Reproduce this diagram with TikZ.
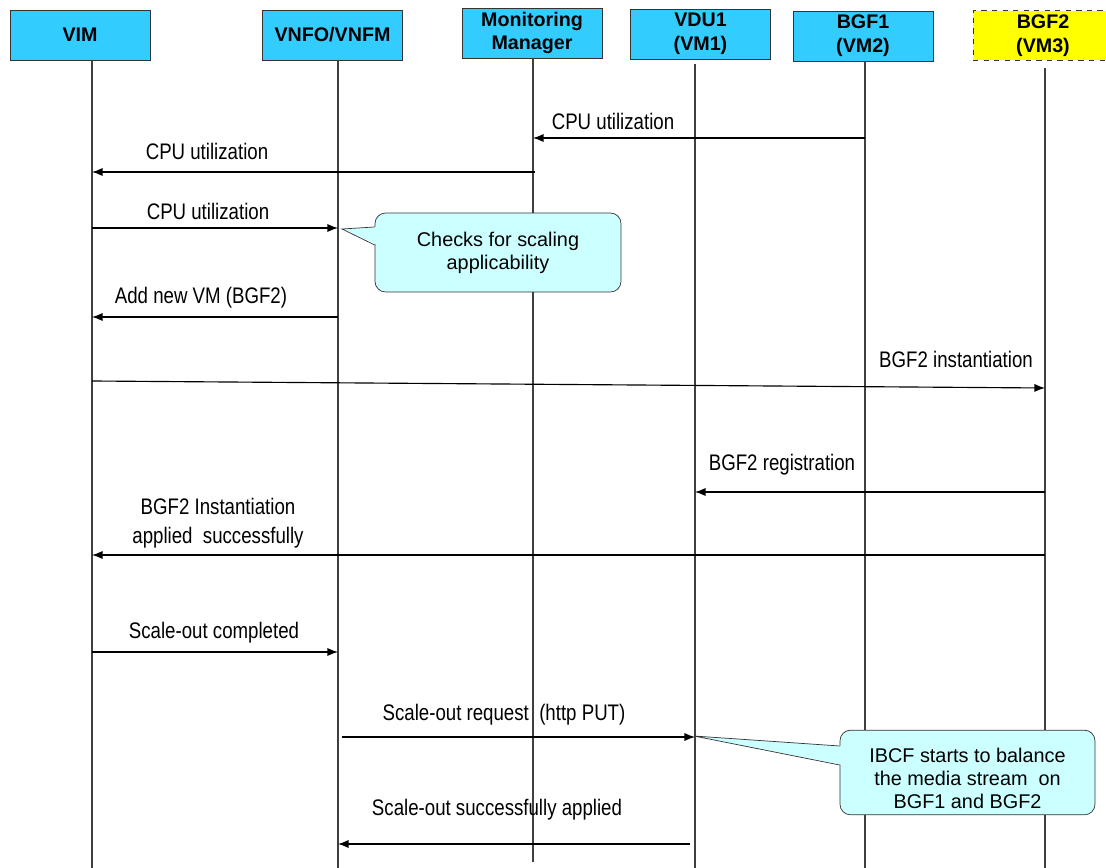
\documentclass[tikz,border=0pt]{standalone}
\usepackage{fontspec}
\setmainfont{Liberation Sans}
\newfontfamily\msgfont[FakeStretch=0.83]{Liberation Sans}
\usepackage{xcolor}
\usepackage{tikz}
\usetikzlibrary{arrows.meta, calc}

\definecolor{headblue}{HTML}{33CCFF}
\definecolor{headyellow}{HTML}{FFFF00}
\definecolor{notecyan}{HTML}{CCFFFF}

\begin{document}
\begin{tikzpicture}[
  x=0.02cm, y=-0.02cm,
  head/.style={draw=black!80, fill=headblue, minimum width=2.8cm,
               minimum height=1.0cm, inner sep=0pt, align=center,
               font=\fontsize{11.2}{13.6}\selectfont\bfseries},
  newhead/.style={head, fill=headyellow, dashed},
  life/.style={draw=black!75, line width=0.6pt},
  msg/.style={-{Latex[length=6pt,width=4.6pt]}, line width=0.65pt},
  lab/.style={font=\msgfont\fontsize{12.8}{16.4}\selectfont, align=center},
  note/.style={draw=black!80, fill=notecyan, rounded corners=6pt,
               align=center, font=\fontsize{11.3}{13.2}\selectfont},
  tail/.style={fill=notecyan},
  tailedge/.style={draw=black!80},
]
\useasboundingbox (0,0) rectangle (1106,868);

% ---- Heads -----------------------------------------------------------------
\node[head] (vim) at (80,35) {VIM};
\node[head] (vnfm) at (332.5,35) {VNFO/VNFM};
\node[head] (mm) at (532,33) {Monitoring\\Manager};
\node[head] (vdu) at (700.5,34) {VDU1\\(VM1)};
\node[head] (bgfa) at (863,36) {BGF1\\(VM2)};
\node[newhead] (bgfb) at (1043,35.5) {BGF2\\(VM3)};

% ---- Lifelines -------------------------------------------------------------
\coordinate (lvim) at (92,60);    \coordinate (lvimEnd) at (92,868);
\coordinate (lvnfm) at (338,60);  \coordinate (lvnfmEnd) at (338,868);
\coordinate (lmm) at (533,58);    \coordinate (lmmEnd) at (533,862);
\coordinate (lvdu) at (695,64);   \coordinate (lvduEnd) at (695,868);
\coordinate (lbgfa) at (865,62);  \coordinate (lbgfaEnd) at (865,868);
\coordinate (lbgfb) at (1045,68); \coordinate (lbgfbEnd) at (1045,868);
\draw[life] (lvim) -- (lvimEnd);
\draw[life] (lvnfm) -- (lvnfmEnd);
\draw[life] (lmm) -- (lmmEnd);
\draw[life] (lvdu) -- (lvduEnd);
\draw[life] (lbgfa) -- (lbgfaEnd);
\draw[life] (lbgfb) -- (lbgfbEnd);

% ---- Monitoring ------------------------------------------------------------
\draw[msg] (lbgfa |- 0,138) -- (lmm |- 0,138);
\node[lab] (tCpuA) at (613,121) {CPU utilization};
\draw[msg] ($(lmm |- 0,172)+(2,0)$) -- (lvim |- 0,172);
\node[lab] (tCpuB) at (207,151) {CPU utilization};
\draw[msg] (lvim |- 0,228) -- (lvnfm |- 0,228);
\node[lab] (tCpuC) at (208,211) {CPU utilization};

% ---- Scaling check callout -------------------------------------------------
\node[note, minimum width=4.92cm, minimum height=1.58cm]
  (chk) at (498,252.5) {Checks for scaling\\applicability};
\coordinate (chkTip) at (342,229);
\fill[tail] ($(chk.west |- 0,227)+(3,0)$) -- (chkTip)
  -- ($(chk.west |- 0,245)+(3,0)$) -- cycle;
\draw[tailedge] (chk.west |- 0,227) -- (chkTip) -- (chk.west |- 0,245);

% ---- Instantiation ---------------------------------------------------------
\draw[msg] (lvnfm |- 0,317) -- (lvim |- 0,317);
\node[lab] (tAddVm) at (201,298) {Add new VM (BGF2)};
\draw[msg] (lvim |- 0,381) -- (lbgfb |- 0,388);
\node[lab] (tInst) at (956,359) {BGF2 instantiation};
\draw[msg] (lbgfb |- 0,492) -- (lvdu |- 0,492);
\node[lab] (tReg) at (782,465) {BGF2 registration};
\draw[msg] (lbgfb |- 0,555) -- (lvim |- 0,555);
\node[lab] (tInstOk) at (218,523) {BGF2 Instantiation\\applied\ \ successfully};

% ---- Scale-out -------------------------------------------------------------
\draw[msg] (lvim |- 0,652) -- (lvnfm |- 0,652);
\node[lab] (tDone) at (214,633) {Scale-out completed};
\draw[msg] ($(lvnfm |- 0,737)+(4,0)$) -- (lvdu |- 0,737);
\node[lab] (tReq) at (504,715) {Scale-out request\ \ (http PUT)};
\draw[msg] ($(lvdu |- 0,844)+(-5,0)$) -- (lvnfm |- 0,844);
\node[lab] (tApplied) at (497,810) {Scale-out successfully applied};

% ---- Balancing callout -----------------------------------------------------
\node[note, minimum width=5.1cm, minimum height=1.58cm]
  (ibcf) at (967.5,772.5)
  {\rule{0pt}{15pt}IBCF starts to balance\\the media stream\ \ on\\BGF1 and BGF2};
\coordinate (ibcfTip) at (694,736);
\fill[tail] ($(ibcf.west |- 0,746)+(3,0)$) -- (ibcfTip)
  -- ($(ibcf.west |- 0,765)+(3,0)$) -- cycle;
\draw[tailedge] (ibcf.west |- 0,746) -- (ibcfTip) -- (ibcf.west |- 0,765);

\end{tikzpicture}
\end{document}
